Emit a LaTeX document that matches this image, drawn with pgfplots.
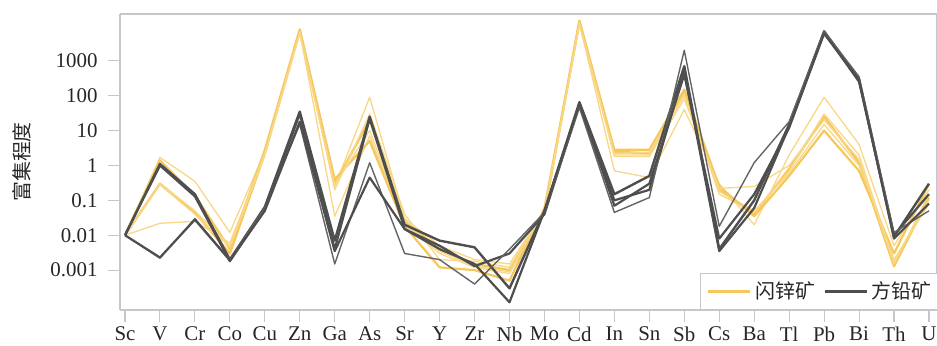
\documentclass[border=0pt]{standalone}
\usepackage{fontspec}
\setmainfont{Liberation Serif}
\newfontfamily\cjk{Noto Sans CJK SC}
\usepackage{pgfplots}
\usepackage{pgfplotstable}
\pgfplotsset{compat=1.18}
\definecolor{ylw}{RGB}{246,200,92}
\definecolor{ylwl}{RGB}{248,215,135}
\definecolor{gry}{RGB}{78,78,78}
\definecolor{gryl}{RGB}{100,100,100}
\definecolor{frm}{RGB}{198,198,204}

\pgfplotstableread{
x  Y1     Y2     Y3     Y4     Y5     Y6     G1     G2     G3     G4
0  0.01   0.01   0.01   0.01   0.01   0.01   0.01   0.01   0.01   0.01
1  1.7    0.3    0.022  1.4    0.3    0.28   1.1    1.0    0.0022 0.0023
2  0.35   0.045  0.025  0.14   0.05   0.04   0.15   0.13   0.03   0.028
3  0.012  0.003  0.006  0.004  0.005  0.0045 0.002  0.0018 0.002  0.0019
4  2.5    2.2    2.0    2.8    2.3    2.0    0.065  0.055  0.06   0.05
5  7000   7500   6500   8000   7000   6000   35     30     15     18
6  0.25   0.3    0.035  0.4    0.2    0.28   0.007  0.004  0.0015 0.0035
7  90     20     7      5      30     10     25     22     1.2    0.45
8  0.03   0.025  0.02   0.018  0.04   0.022  0.02   0.015  0.003  0.015
9  0.005  0.004  0.003  0.0012 0.002  0.0035 0.007  0.005  0.002  0.004
10 0.002  0.0015 0.0012 0.001  0.0018 0.0013 0.0045 0.0013 0.0004 0.0015
11 0.0015 0.001  0.0008 0.0005 0.0012 0.0009 0.0003 0.003  0.004  0.00012
12 0.05   0.045  0.04   0.06   0.05   0.045  0.05   0.04   0.045  0.05
13 12000  14000  11000  13000  12500  11500  65     55     45     60
14 0.7    2.5    2.0    2.8    1.8    2.2    0.15   0.1    0.045  0.07
15 0.45   2.2    2.0    2.8    1.8    2.4    0.5    0.2    0.12   0.3
16 40     130    100    150    80     110    700    500    2000   400
17 0.3    0.2    0.18   0.25   0.22   0.15   0.004  0.0035 0.018  0.008
18 0.02   0.04   0.05   0.035  0.25   0.045  0.1    0.06   1.2    0.15
19 2      0.8    0.6    0.5    1      0.7    15     13     18     12
20 90     25     15     10     20     30     7000   6500   7000   6000
21 4      1.2    1      0.7    1.5    2      300    250    350    280
22 0.005  0.0013 0.002  0.003  0.0015 0.0018 0.009  0.01   0.012  0.008
23 0.2    0.12   0.08   0.3    0.15   0.1    0.3    0.15   0.05   0.08
}\data

\begin{document}
\begin{tikzpicture}
\begin{axis}[
  scale only axis,
  width=817bp, height=296bp,
  xmin=-0.143, xmax=23.23,
  ymode=log, log basis y=10,
  ymin=7.2e-5, ymax=21900,
  xtick={0,...,23},
  xticklabels={Sc,V,Cr,Co,Cu,Zn,Ga,As,Sr,Y,Zr,Nb,Mo,Cd,In,Sn,Sb,Cs,Ba,Tl,Pb,Bi,Th,U},
  ytick={0.001,0.01,0.1,1,10,100,1000},
  yticklabels={0.001,0.01,0.1,1,10,100,1000},
  minor ytick={},
  tick align=outside,
  major tick length=12bp,
  tick style={draw=frm, line width=1.1pt},
  axis line style={draw=frm, line width=1.2pt},
  axis x line*=bottom, axis y line*=left,
  every axis plot/.append style={line join=round},
  tick label style={font=\fontsize{21}{23}\selectfont, text=black!85},
  yticklabel style={xshift=-7bp},
  xticklabel style={yshift=-1bp},
  ylabel={\cjk 富集程度},
  ylabel shift=12bp,
  ylabel style={font=\fontsize{20}{22}\selectfont, text=black!85},
  legend columns=2,
  legend image code/.code={\draw[#1, line width=2.8pt] (0bp,0bp) -- (42bp,0bp);},
  legend style={at={(rel axis cs:1.004,0)}, anchor=south east,
    draw=frm, line width=1.1pt, fill=white,
    font=\cjk\fontsize{20}{22}\selectfont, text=black!85,
    inner xsep=6bp, inner ysep=7bp,
    /tikz/every odd column/.append style={column sep=2bp},
    /tikz/every even column/.append style={column sep=6bp}},
]
\draw[frm, line width=1.2pt] (rel axis cs:0,1) -- (rel axis cs:1,1);
\draw[frm, line width=1.2pt] (rel axis cs:1,0) -- (rel axis cs:1,1);
\coordinate (sw) at (rel axis cs:0,0);
\coordinate (ne) at (rel axis cs:1,1);
\addplot[ylw, line width=2.4pt] table[x=x,y=Y2]{\data};
\addlegendentry{闪锌矿}
\addplot[ylwl, line width=1.3pt, forget plot] table[x=x,y=Y1]{\data};
\addplot[ylwl, line width=1.3pt, forget plot] table[x=x,y=Y3]{\data};
\addplot[ylw, line width=2.2pt, forget plot] table[x=x,y=Y4]{\data};
\addplot[ylwl, line width=1.3pt, forget plot] table[x=x,y=Y5]{\data};
\addplot[ylwl, line width=1.3pt, forget plot] table[x=x,y=Y6]{\data};
\addplot[gry, line width=2.4pt] table[x=x,y=G1]{\data};
\addlegendentry{方铅矿}
\addplot[gry, line width=2.2pt, forget plot] table[x=x,y=G2]{\data};
\addplot[gryl, line width=1.4pt, forget plot] table[x=x,y=G3]{\data};
\addplot[gry, line width=2.2pt, forget plot] table[x=x,y=G4]{\data};
\end{axis}
\pgfresetboundingbox
\path ([xshift=-120bp,yshift=-36bp]sw) rectangle ([yshift=14bp]ne);
\end{tikzpicture}
\end{document}
